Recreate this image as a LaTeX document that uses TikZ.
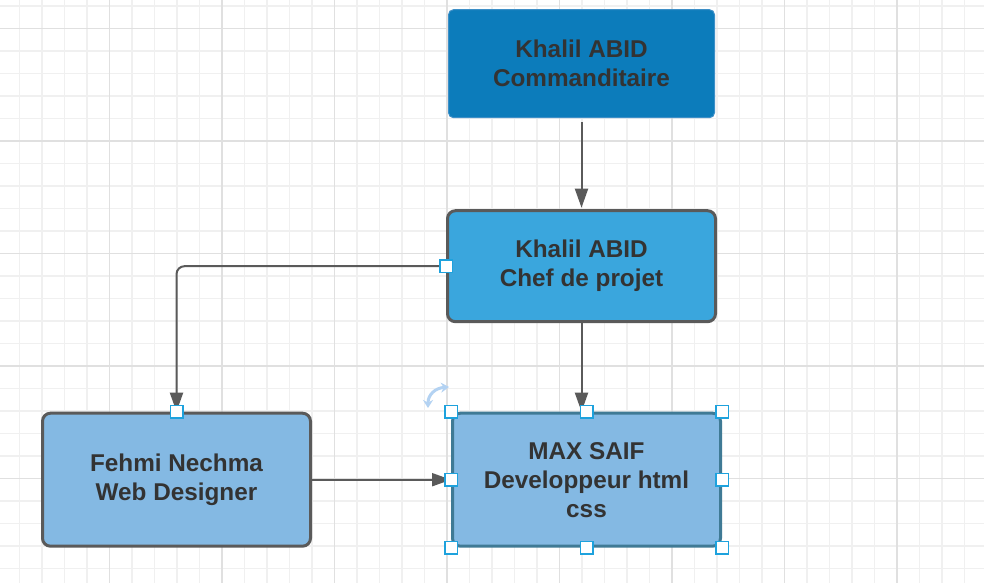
\documentclass[tikz,border=0pt]{standalone}
\usepackage{fontspec}
\setmainfont{Liberation Sans}
\usetikzlibrary{positioning,arrows.meta}
\definecolor{commblue}{HTML}{0C7CBB}
\definecolor{commedge}{HTML}{3D8FC7}
\definecolor{chefblue}{HTML}{3AA6DD}
\definecolor{teamblue}{HTML}{84B9E3}
\definecolor{edgegray}{HTML}{5A5A5A}
\definecolor{textgray}{HTML}{333333}
\definecolor{handleblue}{HTML}{1EA2DD}
\definecolor{rotblue}{HTML}{B3D2F2}
\definecolor{gridminor}{HTML}{F0F0F0}
\definecolor{gridmajor}{HTML}{E0E0E0}
\begin{document}
\begin{tikzpicture}[x=1pt, y=-1pt,
    every node/.style={align=center, text=textgray, inner sep=0pt, font=\fontsize{24.3}{29}\selectfont\bfseries},
    box/.style={draw=edgegray, line width=3pt, rounded corners=8pt, minimum width=268pt, minimum height=111pt},
    handle/.style={draw=handleblue, line width=1.5pt, fill=white, minimum size=12.5pt},
    link/.style={edgegray, line width=2pt, -{Triangle[length=19pt,width=13pt]}}]
    \useasboundingbox (0,0) rectangle (984,583);
    \fill[white] (0,0) rectangle (984,583);
    \foreach \k in {0,...,42}
        \draw[gridminor, line width=1.5pt] ({19.7+22.5*\k},0) -- ++(0,583);
    \foreach \k in {0,...,25}
        \draw[gridminor, line width=1.5pt] (0,{5.8+22.5*\k}) -- ++(984,0);
    \foreach \k in {0,...,7}
        \draw[gridmajor, line width=1.5pt] ({109.7+112.5*\k},0) -- ++(0,583);
    \foreach \k in {0,...,4}
        \draw[gridmajor, line width=1.5pt] (0,{28.3+112.5*\k}) -- ++(984,0);

    \node (comm) at (581.5,63.7) [fill=commblue, draw=commedge, line width=1pt, rounded corners=5pt, minimum width=266pt, minimum height=108pt] {Khalil ABID\\Commanditaire};
    \node (chef) [box, fill=chefblue, below=91pt of comm] {Khalil ABID\\Chef de projet};
    \node (max) [box, fill=teamblue, draw=edgegray!55!handleblue, minimum height=133pt, below=88.5pt of chef, xshift=5pt] {MAX SAIF\\Developpeur html\\css};
    \node (fehmi) [box, fill=teamblue, minimum height=133pt, left=139pt of max] {Fehmi Nechma\\Web Designer};

    \draw[link, shorten <=4pt, shorten >=1.5pt] (comm) -- (chef);
    \draw[link, rounded corners=8pt] (chef.west) -| (fehmi.north);
    \draw[link] (chef.south) -- (chef.south |- max.north);
    \draw[link] (fehmi.east) -- (fehmi.east -| max.west);

    \node[handle] (chef-in) at (chef.west) {};
    \node[handle] (fehmi-in) at (fehmi.north) {};
    \foreach \a/\n in {north west/nw, north/n, north east/ne, west/w, east/e, south west/sw, south/s, south east/se}
        \node[handle] (max-\n) at (max.\a) {};
    \draw[rotblue, line width=3pt, {Stealth[length=8pt,width=10pt]}-{Stealth[length=8pt,width=10pt]}]
        (428,408) .. controls (428,394) and (436,388) .. (449,387);
\end{tikzpicture}
\end{document}
